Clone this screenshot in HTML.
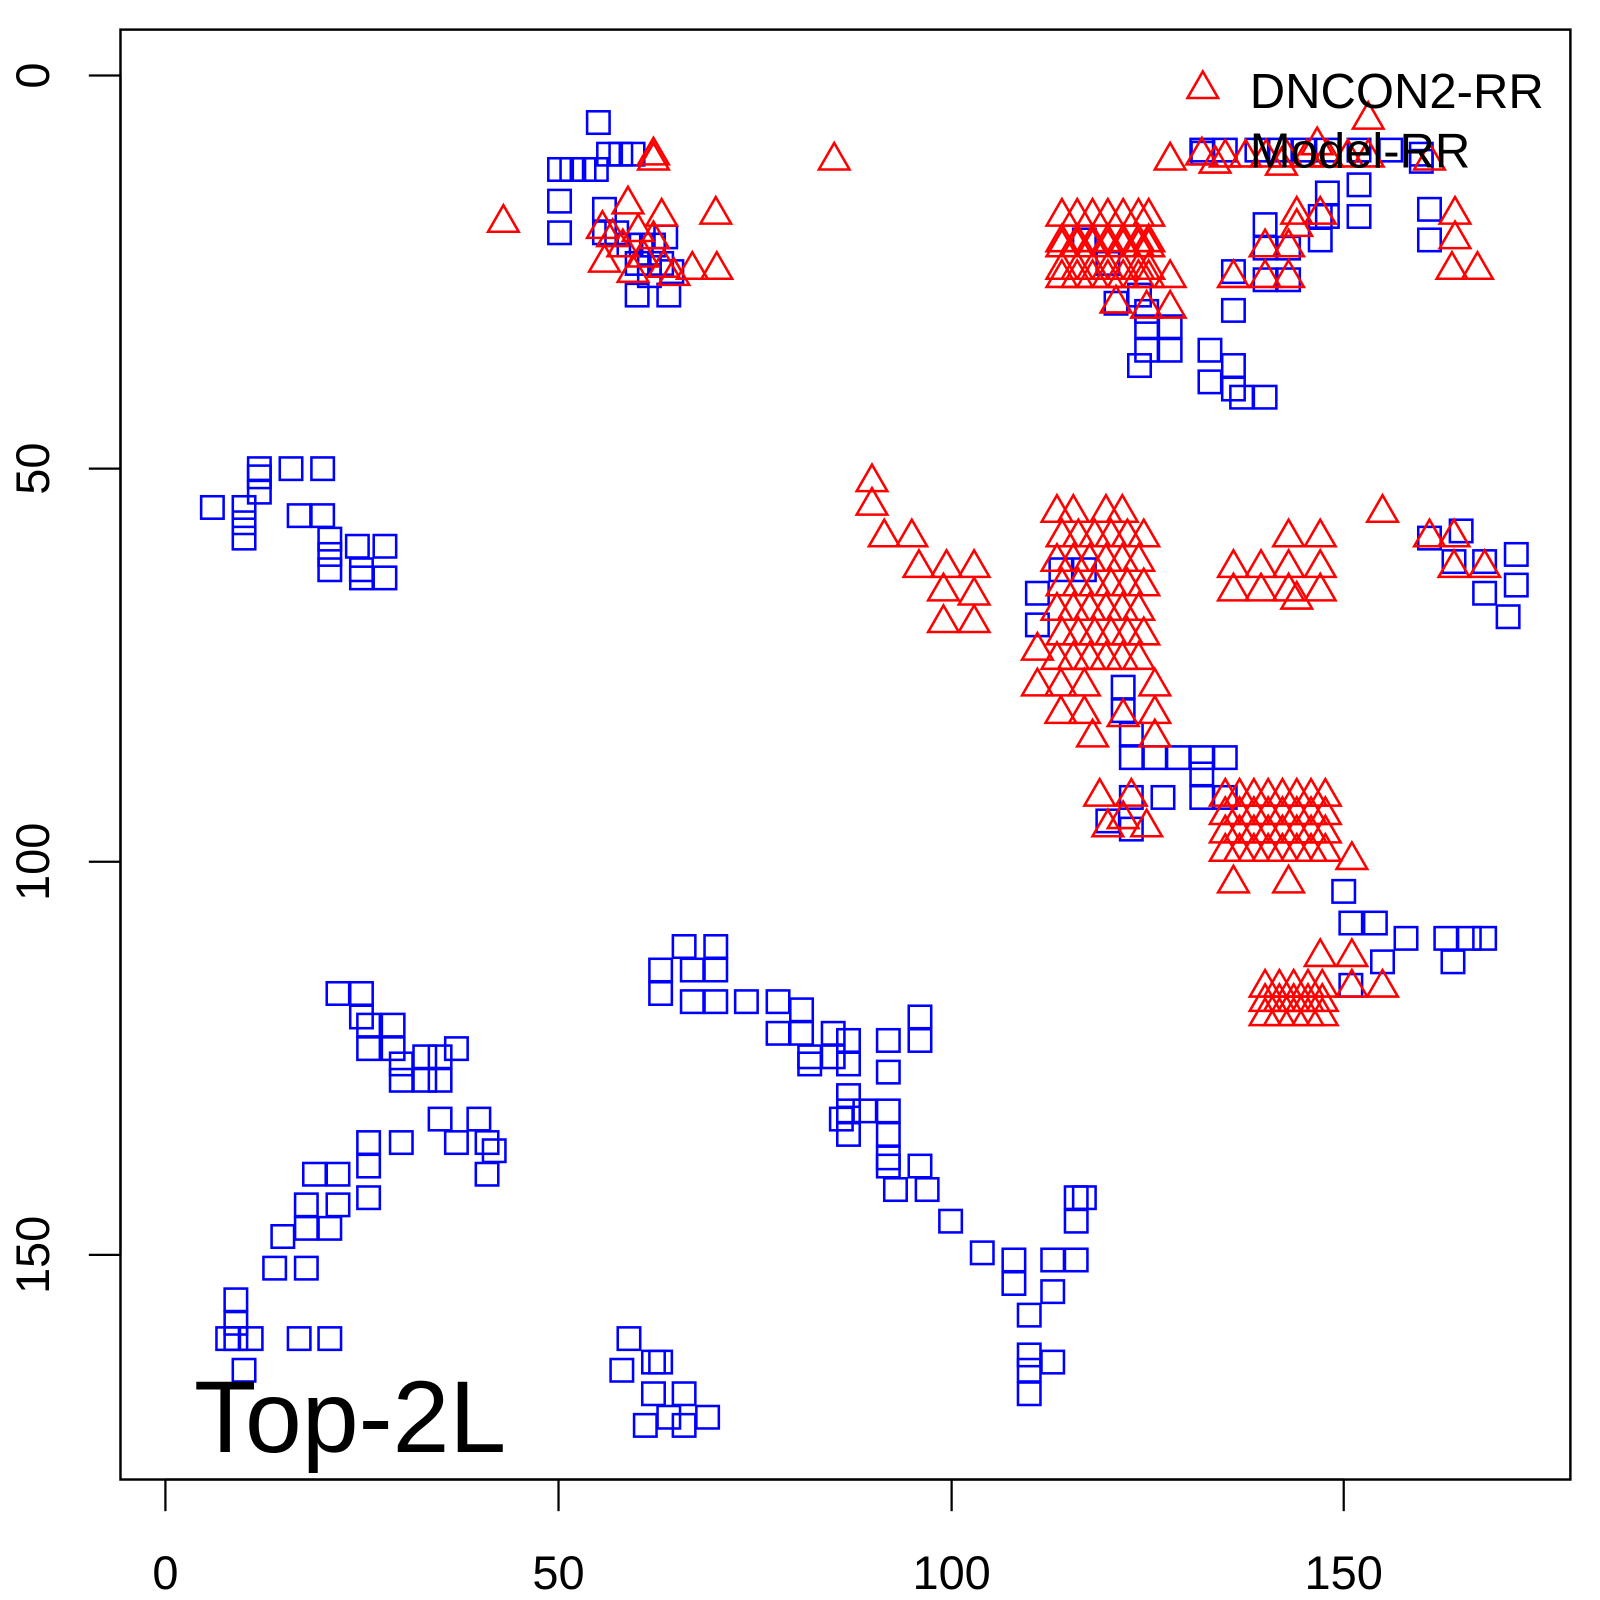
<!DOCTYPE html>
<html><head><meta charset="utf-8"><style>html,body{margin:0;padding:0;background:#fff}svg{display:block}</style></head>
<body>
<svg id="s" width="1600" height="1600" viewBox="0 0 1567 1567" xmlns="http://www.w3.org/2000/svg" font-family="Liberation Sans, sans-serif">
<rect x="0" y="0" width="1567" height="1567" fill="#fff"/>
<g id="pts"></g>
<rect x="118" y="29" width="1420" height="1420" fill="none" stroke="#000" stroke-width="2.4"/>
<g stroke="#000" stroke-width="2.2">
<line x1="162" y1="1449" x2="1316" y2="1449"/>
<line x1="162" y1="1449" x2="162" y2="1480"/><line x1="547" y1="1449" x2="547" y2="1480"/>
<line x1="932" y1="1449" x2="932" y2="1480"/><line x1="1316" y1="1449" x2="1316" y2="1480"/>
<line x1="118" y1="74" x2="118" y2="1229"/>
<line x1="87" y1="74" x2="118" y2="74"/><line x1="87" y1="459" x2="118" y2="459"/>
<line x1="87" y1="844" x2="118" y2="844"/><line x1="87" y1="1229" x2="118" y2="1229"/>
</g>
<g font-size="46" text-anchor="middle" fill="#000">
<text x="162" y="1556">0</text><text x="547" y="1556">50</text><text x="932" y="1556">100</text><text x="1316" y="1556">150</text>
<text transform="translate(48,74) rotate(-90)">0</text>
<text transform="translate(48,459) rotate(-90)">50</text>
<text transform="translate(48,844) rotate(-90)">100</text>
<text transform="translate(48,1229) rotate(-90)">150</text>
</g>
<text x="190" y="1422" font-size="100" fill="#000">Top-2L</text>
<g font-size="48" fill="#000">
<text x="1224" y="106">DNCON2-RR</text>
<text x="1224" y="164">Model-RR</text>
</g>
</svg>
<script>
var sq=[[586,120],[548,166],[560,166],[572,166],[584,166],[596,151],[608,151],[620,151],[548,197],[548,228],[592,205],[592,228],[604,228],[616,240],[628,240],[640,240],[652,232],[624,258],[636,258],[648,258],[658,266],[624,289],[655,289],[636,270],
[254,459],[285,459],[316,459],[208,497],[239,497],[254,482],[254,467],[239,512],[239,527],[293,505],[316,505],[323,528],[323,543],[323,558],[350,535],[377,535],[354,558],[377,566],[354,566],
[331,973],[354,973],[354,996],[361,1004],[385,1004],[361,1027],[385,1027],[393,1042],[393,1058],[416,1035],[416,1058],[431,1035],[431,1058],[447,1027],[431,1096],[447,1119],[469,1096],[477,1119],[484,1127],[477,1150],[393,1119],[361,1119],[361,1142],[361,1173],[331,1150],[308,1150],[331,1180],[300,1180],[300,1203],[300,1242],[277,1211],[269,1242],[323,1203],[231,1273],[231,1296],[231,1311],[246,1311],[223,1311],[239,1342],[293,1311],[323,1311],
[616,1311],[609,1342],[640,1334],[647,1334],[640,1365],[632,1396],[655,1388],[670,1365],[670,1396],[693,1388],
[647,950],[647,973],[670,927],[701,927],[678,950],[701,950],[678,981],[701,981],[731,981],[762,981],[762,1012],[785,989],[785,1012],[793,1035],[793,1042],[816,1012],[816,1035],[831,1019],[831,1042],[831,1073],[831,1088],[831,1111],[847,1088],[870,1088],[870,1111],[870,1134],[870,1050],[870,1019],[901,1019],[901,996],[870,1142],[877,1165],[901,1142],[908,1165],[931,1196],[962,1227],[993,1234],[993,1257],[1031,1234],[1054,1234],[1031,1265],[1008,1288],[1054,1196],[1054,1173],[1062,1173],[1008,1327],[1008,1342],[1008,1365],[1031,1334],[824,1096],
[1016,581],[1039,558],[1062,558],[1016,612],[1100,673],[1100,696],[1108,719],[1108,742],[1131,742],[1154,742],[1177,742],[1200,742],[1177,758],[1177,781],[1200,781],[1139,781],[1108,781],[1085,804],[1108,812],[1316,873],[1323,904],[1347,904],[1377,919],[1354,942],[1323,965],[1416,919],[1439,919],[1454,919],[1423,942],[1400,527],[1431,520],[1424,550],[1454,550],[1454,581],[1485,543],[1485,573],[1477,604],
[1177,147],[1200,147],[1231,147],[1254,147],[1277,147],[1300,147],[1331,147],[1362,147],[1392,151],[1392,158],[1300,189],[1331,181],[1331,212],[1300,212],[1239,220],[1239,243],[1262,243],[1293,235],[1293,212],[1208,266],[1239,274],[1262,274],[1208,304],[1400,205],[1400,235],[1185,343],[1185,374],[1208,358],[1208,381],[1216,389],[1239,389],[1123,320],[1146,320],[1123,343],[1146,343],[1116,358],[1062,235],[1085,258],[1093,297],[1116,289],[1123,305],[1178,150]];
var tr=[[493,216],[640,150],[640,155],[817,155],[701,208],[590,222],[615,198],[600,230],[625,225],[648,210],[610,240],[630,250],[650,260],[678,262],[702,262],[592,255],[620,265],[660,268],[640,232],
[1146,155],[1177,150],[1200,152],[1220,152],[1240,152],[1260,152],[1280,152],[1300,152],[1320,152],[1340,152],[1190,158],[1255,160],[1290,140],[1340,115],[1425,208],[1425,232],[1422,262],[1447,262],[1400,155],
[1146,270],[1146,300],[1123,300],[1093,295],[1208,270],[1239,240],[1239,270],[1262,270],[1270,208],[1293,208],[1262,240],[1270,220],
[854,470],[854,493],[866,524],[893,524],[900,554],[927,554],[954,554],[924,577],[954,581],[924,608],[954,608],
[1208,554],[1235,554],[1262,554],[1293,554],[1208,577],[1235,577],[1262,577],[1293,577],[1262,524],[1293,524],[1270,585],[1354,500],[1400,524],[1424,524],[1424,554],[1454,554],
[1077,778],[1100,800],[1108,778],[1123,808],[1085,808],[1293,935],[1324,935],[1354,965],[1324,965],[1324,840],[1208,863],[1262,863],
[1016,635],[1016,670],[1039,670],[1062,670],[1131,670],[1131,697],[1100,700],[1131,720],[1070,720],[1039,697],[1062,697],[1178,85]];
var xs=[1040,1055,1070,1085,1100,1115,1125],ys=[210,235,240,262,270];
xs.forEach(function(x){ys.forEach(function(y){tr.push([x,y]);});});
for(var x=1031;x<=1125;x+=16){for(var y=500;y<=650;y+=24){if((x+y)%3!=0||y>520)tr.push([x+((y/24)%2)*5,y]);}}
for(var x=1200;x<=1300;x+=14){for(var y=778;y<=845;y+=18){tr.push([x,y]);}}
for(var x=1239;x<=1300;x+=14){for(var y=965;y<=995;y+=14){tr.push([x,y]);}}
var g=document.getElementById('pts'),h='';
sq.forEach(function(p){h+='<rect x="'+(p[0]-11)+'" y="'+(p[1]-11)+'" width="22" height="22" fill="none" stroke="#0000ff" stroke-width="2.5"/>';});
tr.forEach(function(p){var x=p[0],y=p[1];h+='<polygon points="'+(x-15)+','+(y+11)+' '+(x+15)+','+(y+11)+' '+x+','+(y-15)+'" fill="none" stroke="#ff0000" stroke-width="2.5"/>';});
g.innerHTML=h;
</script>
</body></html>
